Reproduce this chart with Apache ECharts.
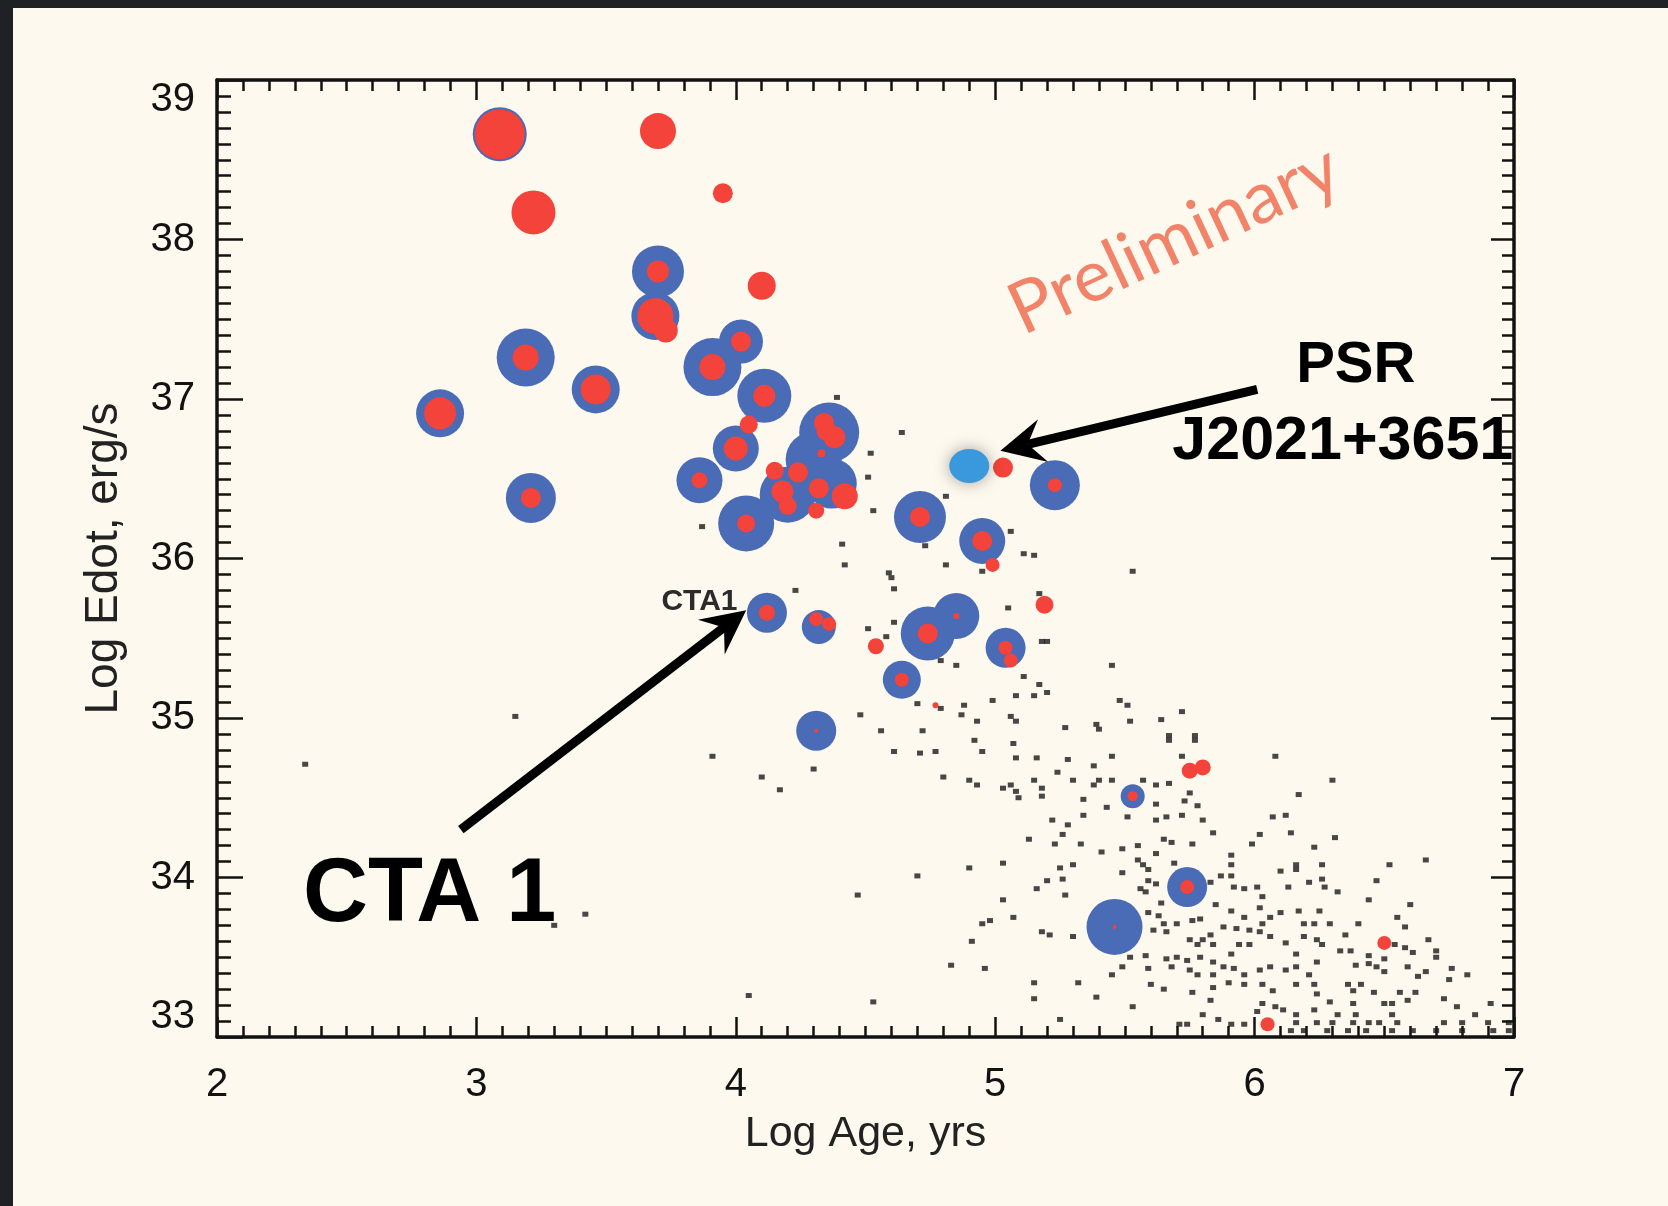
<!DOCTYPE html>
<html><head><meta charset="utf-8">
<script src="https://cdn.jsdelivr.net/npm/echarts@6/dist/echarts.min.js"></script>
<style>html,body{margin:0;padding:0;background:#FDF9EF;} #c{width:1668px;height:1206px;}</style>
</head><body><div id="c"></div>
<script>
// ---- axis ranges / ticks ----
const xRange = [2, 7];
const yRange = [33, 39];
const tickStep = 1;

// ---- all radio pulsars (Log Age, Log Edot) ----
const allPulsars = [
[4.39,37.01],[4.64,36.79],[4.52,36.66],[4.51,36.51],[4.53,36.30],[4.81,36.39],[4.41,36.09],[4.42,35.96],[4.73,36.08],[4.81,35.96],
[4.59,35.91],[4.60,35.88],[4.61,35.81],[4.23,35.80],[5.06,36.17],[5.11,36.03],[4.95,35.92],[5.05,35.69],[4.61,35.60],[4.51,35.56],
[4.58,35.51],[4.79,35.36],[4.85,35.33],[5.11,35.26],[4.99,35.11],[5.08,35.14],[4.70,35.09],[4.79,35.06],[4.88,35.08],[4.87,35.02],
[4.93,34.98],[4.48,35.02],[5.06,35.01],[5.08,34.98],[4.56,34.92],[4.72,34.92],[3.87,36.20],[5.15,36.02],[5.17,35.21],[5.20,35.16],
[5.15,35.14],[5.27,34.94],[5.39,34.96],
[5.53,35.92],[5.17,35.78],[5.18,35.48],[5.20,35.48],[5.45,35.33],[5.48,35.11],[5.51,35.08],[5.52,34.98],[5.64,34.99],[5.72,35.04],
[5.40,34.93],[5.67,34.89],[5.77,34.89],
[4.61,34.79],[4.71,34.78],[4.77,34.79],[4.92,34.86],[4.95,34.79],[5.07,34.84],[5.08,34.75],[4.30,34.68],[4.17,34.55],[4.80,34.63],
[4.90,34.61],[4.93,34.58],[5.03,34.56],[5.06,34.58],[5.08,34.54],[5.09,34.50],[5.13,34.24],[4.70,34.01],[4.47,33.89],[4.90,34.06],
[5.03,34.09],[5.03,33.86],[4.95,33.71],[4.98,33.73],[5.07,33.75],[4.91,33.60],[4.83,33.45],[4.96,33.43],[4.53,33.22],
[5.67,34.86],[5.77,34.86],[5.16,34.75],[5.28,34.74],[5.45,34.76],[5.38,34.70],[5.72,34.76],[5.24,34.66],[5.30,34.61],[5.15,34.61],
[5.18,34.56],[5.18,34.51],[5.40,34.61],[5.45,34.61],[5.38,34.58],[5.57,34.61],[5.62,34.58],[5.67,34.59],[5.75,34.53],[5.73,34.48],
[5.78,34.45],[5.34,34.49],[5.43,34.44],[5.34,34.39],[5.62,34.46],[5.22,34.36],[5.28,34.33],[5.26,34.27],[5.23,34.21],[5.33,34.21],
[5.51,34.38],[5.62,34.36],[5.66,34.38],[5.72,34.39],[5.80,34.36],[5.84,34.28],[6.02,34.27],[6.07,34.38],[5.99,34.21],[5.65,34.24],
[5.68,34.22],[5.76,34.21],[5.41,34.16],[5.49,34.18],[5.55,34.20],[5.62,34.15],[5.69,34.09],[5.55,34.11],[5.57,34.08],[5.59,34.05],
[5.25,34.06],[5.30,34.08],[5.91,34.14],[5.91,34.08],[5.87,34.01],[5.91,34.01],[5.49,34.03],[5.20,33.98],[5.26,33.99],[5.16,33.93],
[5.27,33.89],[5.56,33.93],[5.58,33.91],[5.59,33.98],[5.62,33.96],[5.83,33.97],[5.92,33.94],[5.96,33.93],[6.01,33.94],[6.03,33.88],
[5.85,33.83],[5.91,33.79],[5.96,33.75],[6.02,33.81],[6.06,33.75],[5.64,33.84],[5.63,33.76],[5.59,33.78],[5.18,33.66],[5.21,33.64],
[5.30,33.63],[5.65,33.71],[5.70,33.71],[5.66,33.66],[5.76,33.73],[5.79,33.74],[5.61,33.67],[5.75,33.61],[5.80,33.61],[5.83,33.64],
[5.84,33.58],[5.78,33.58],[5.88,33.69],[5.93,33.68],[5.98,33.67],[6.03,33.71],[6.02,33.66],[6.06,33.63],[5.94,33.58],[5.98,33.58],
[5.91,33.52],[5.58,33.51],[5.52,33.50],[5.49,33.44],[5.45,33.39],[5.59,33.43],[5.66,33.49],[5.70,33.50],[5.74,33.48],[5.79,33.50],
[5.84,33.47],[5.68,33.44],[5.75,33.42],[5.78,33.39],[5.84,33.39],[5.88,33.44],[5.92,33.43],[5.96,33.39],[6.02,33.42],[6.06,33.44],
[5.60,33.33],[5.65,33.30],[5.76,33.28],[5.84,33.31],[5.90,33.34],[5.96,33.33],[6.03,33.33],[6.07,33.29],[5.15,33.34],[5.32,33.34],
[5.15,33.24],[5.39,33.25],[5.53,33.19],[5.83,33.23],[5.25,33.11],[5.80,33.14],[5.86,33.11],[5.91,33.08],[5.96,33.08],[6.01,33.16],
[6.03,33.21],[6.08,33.19],[5.71,33.08],[5.74,33.08],
[6.30,34.61],[6.17,34.52],[6.12,34.39],[6.14,34.28],[6.31,34.25],[6.23,34.19],[6.10,34.04],[6.16,34.08],[6.16,34.05],[6.26,34.08],
[6.26,33.99],[6.27,33.94],[6.21,33.97],[6.13,33.94],[6.32,33.91],[6.52,34.08],[6.66,34.11],[6.47,33.98],[6.44,33.86],[6.60,33.83],
[6.55,33.75],[6.58,33.69],[6.17,33.79],[6.25,33.79],[6.10,33.78],[6.54,33.58],[6.58,33.56],[6.61,33.53],[6.67,33.61],[6.70,33.54],
[6.70,33.50],[6.19,33.71],[6.23,33.71],[6.29,33.71],[6.40,33.71],[6.35,33.64],[6.19,33.63],[6.24,33.61],[6.26,33.58],[6.12,33.59],
[6.33,33.54],[6.37,33.54],[6.44,33.51],[6.50,33.49],[6.44,33.46],[6.47,33.44],[6.50,33.41],[6.16,33.52],[6.16,33.44],[6.24,33.47],
[6.12,33.42],[6.21,33.39],[6.39,33.45],[6.59,33.44],[6.63,33.38],[6.66,33.41],[6.76,33.43],[6.82,33.39],[6.75,33.36],[6.16,33.33],
[6.23,33.33],[6.24,33.27],[6.36,33.33],[6.41,33.33],[6.38,33.29],[6.46,33.28],[6.56,33.28],[6.62,33.28],[6.29,33.22],[6.38,33.21],
[6.50,33.21],[6.53,33.21],[6.59,33.23],[6.73,33.24],[6.78,33.19],[6.85,33.14],[6.91,33.21],[6.11,33.17],[6.16,33.14],[6.23,33.17],
[6.32,33.14],[6.39,33.14],[6.53,33.14],
[6.16,33.09],[6.24,33.09],[6.30,33.09],[6.38,33.09],[6.44,33.09],[6.48,33.09],[6.55,33.09],[6.73,33.09],[6.80,33.09],[6.90,33.09],[6.98,33.09],
[6.14,33.04],[6.19,33.04],[6.28,33.04],[6.36,33.04],[6.43,33.04],[6.53,33.04],[6.61,33.04],[6.70,33.04],[6.80,33.04],[6.92,33.04],[6.98,33.04],
[2.34,34.71],[3.15,35.01],[3.91,34.76],[4.10,34.63],[3.42,33.77],[3.30,33.70],[4.05,33.26],[6.08,34.76]
];

// ---- gamma-ray detected pulsars (blue discs): [LogAge, LogEdot, relative size] ----
const gammaPulsars = [
[3.09,38.66,27],[3.70,37.80,26],[3.69,37.52,24],[3.19,37.26,29],[4.02,37.36,22],[3.91,37.20,29],[3.46,37.06,24],
[4.11,37.02,27],[2.86,36.91,24],[4.00,36.69,23],[3.86,36.49,23],[3.21,36.38,25],[4.04,36.22,28],
[4.36,36.79,30],[4.30,36.62,28],[4.20,36.40,28],[4.37,36.47,25],
[4.71,36.26,26],[4.95,36.11,23],[5.23,36.46,25],[4.12,35.66,20],[4.32,35.57,17],[4.74,35.53,27],[4.85,35.64,23],
[5.04,35.44,20],[4.64,35.24,19],[4.31,34.92,20],[5.53,34.51,12],[5.74,33.94,20],[5.46,33.69,28]
];

// ---- red points: [LogAge, LogEdot, relative size] ----
const redPoints = [
[3.09,38.66,25],[3.70,37.80,11],[3.69,37.52,18],[3.73,37.43,12],[3.19,37.26,13],[4.02,37.36,10],[3.91,37.20,13],
[3.46,37.06,15],[4.11,37.02,11],[2.86,36.91,16],[4.00,36.69,12],[3.86,36.49,8],[3.21,36.38,10],[4.04,36.22,9],
[4.34,36.85,10],[4.38,36.76,11],[4.35,36.80,10],[4.33,36.66,4],
[4.71,36.26,10],[4.95,36.11,10],[5.23,36.46,7],[4.12,35.66,8],[4.31,35.62,7],[4.36,35.59,7],[4.74,35.53,10],
[4.85,35.64,3],[5.04,35.44,7],[5.06,35.36,7],[4.64,35.24,7],[4.31,34.92,2],[5.53,34.51,5],[5.74,33.94,7],[5.46,33.69,2],
[3.70,38.68,18],[3.95,38.29,10],[3.22,38.17,22],[4.10,37.71,14],[4.05,36.84,9],[4.15,36.55,9],[4.24,36.54,10],
[4.18,36.42,11],[4.20,36.33,9],[4.32,36.44,10],[4.42,36.39,13],[4.31,36.30,8],[4.99,35.96,7],[5.03,36.57,10],
[4.54,35.45,8],[5.19,35.71,9],[4.77,35.08,3],[5.75,34.67,8],[5.80,34.69,8],[6.05,33.08,7],[6.50,33.59,7]
];

// ---- highlighted pulsar ----
const psrJ2021 = [[4.90, 36.58]];

// ---- annotation anchors (data coordinates) ----
const notes = {
  cta1Big:   {text: 'CTA 1', at: [2.82, 33.88]},
  cta1Small: {text: 'CTA1', at: [3.86, 35.73]},
  psr1:      {text: 'PSR', at: [6.39, 37.21]},
  psr2:      {text: 'J2021+3651', at: [6.34, 36.73]},
  prelim:    {text: 'Preliminary', at: [5.69, 38.0]},
  arrowCTA:  {from: [2.94, 34.30], to: [4.04, 35.675]},
  arrowPSR:  {from: [6.01, 37.06], to: [5.02, 36.675]}
};

const chart = echarts.init(document.getElementById('c'), null, {renderer: 'canvas'});
const AX = '#121212';
const FONT = 'Liberation Sans';

function xAxisCfg(pos, showLabel) {
  return {
    type: 'value', min: xRange[0], max: xRange[1], interval: tickStep, position: pos,
    axisLine: {onZero: false, lineStyle: {color: AX, width: 3.5}},
    axisTick: {inside: true, length: 20, lineStyle: {color: AX, width: 2.5}},
    minorTick: {show: true, splitNumber: 10, length: 11, lineStyle: {color: AX, width: 2.5}},
    splitLine: {show: false},
    axisLabel: {show: showLabel, fontSize: 40, color: AX, fontFamily: FONT, margin: 28},
    name: showLabel ? 'Log Age, yrs' : '', nameLocation: 'middle', nameGap: 76,
    nameTextStyle: {fontSize: 43, color: '#222', fontFamily: FONT}
  };
}
function yAxisCfg(pos, showLabel) {
  return {
    type: 'value', min: yRange[0], max: yRange[1], interval: tickStep, position: pos,
    axisLine: {onZero: false, lineStyle: {color: AX, width: 3.5}},
    axisTick: {inside: true, length: pos === 'left' ? 26 : 23, lineStyle: {color: AX, width: 2.5}},
    minorTick: {show: true, splitNumber: 10, length: pos === 'left' ? 14 : 12, lineStyle: {color: AX, width: 2.5}},
    splitLine: {show: false},
    axisLabel: {show: showLabel, fontSize: 40, color: AX, fontFamily: FONT, margin: 22,
      verticalAlignMinLabel: 'bottom', verticalAlignMaxLabel: 'top'},
    name: showLabel ? 'Log Edot, erg/s' : '', nameLocation: 'middle', nameGap: 90,
    nameTextStyle: {fontSize: 46, color: '#222', fontFamily: FONT}
  };
}

chart.setOption({
  animation: false,
  backgroundColor: '#FDF9EF',
  grid: {left: 217, right: 154, top: 80, bottom: 169, containLabel: false},
  xAxis: [xAxisCfg('bottom', true), xAxisCfg('top', false)],
  yAxis: [yAxisCfg('left', true), yAxisCfg('right', false)],
  series: [
    {type: 'scatter', data: allPulsars, symbol: 'rect', symbolSize: [6, 5], z: 1, silent: true,
     itemStyle: {color: '#1a1a1a', opacity: 0.8}},
    {type: 'scatter', data: gammaPulsars, symbol: 'circle', symbolSize: d => d[2] * 2, z: 2, silent: true,
     itemStyle: {color: '#4A6BB5', opacity: 1}},
    {type: 'scatter', data: redPoints, symbol: 'circle', symbolSize: d => d[2] * 2, z: 3, silent: true,
     itemStyle: {color: '#F4433A', opacity: 1}},
    {type: 'scatter', data: psrJ2021, symbol: 'circle', symbolSize: [40, 34], z: 4, silent: true,
     itemStyle: {color: '#3A98DC', opacity: 1, shadowBlur: 16, shadowColor: 'rgba(0,0,0,0.35)'}}
  ]
});

const P = (pt) => chart.convertToPixel({xAxisIndex: 0, yAxisIndex: 0}, pt);

function arrow(fromD, toD) {
  const a = P(fromD), t = P(toD);
  const dx = t[0] - a[0], dy = t[1] - a[1], len = Math.hypot(dx, dy);
  const ux = dx / len, uy = dy / len, nx = -uy, ny = ux;
  const L = 44, W = 22, N = 28;
  const base = [t[0] - L * ux, t[1] - L * uy];
  const notch = [t[0] - N * ux, t[1] - N * uy];
  return [
    {type: 'polyline', shape: {points: [a, notch]}, z: 100,
     style: {stroke: '#000', lineWidth: 9, fill: null}},
    {type: 'polygon', z: 100, shape: {points: [t, [base[0] + W * nx, base[1] + W * ny], notch, [base[0] - W * nx, base[1] - W * ny]]},
     style: {fill: '#000'}}
  ];
}

function label(n, opts) {
  const p = P(n.at);
  return {type: 'text', x: p[0], y: p[1], z: 100, rotation: opts.rotation || 0,
    style: Object.assign({text: n.text, align: 'center', verticalAlign: 'middle',
      textAlign: 'center', textVerticalAlign: 'middle', fontFamily: FONT}, opts.style)};
}

const bigShadow = {shadowBlur: 8, shadowColor: 'rgba(0,0,0,0.5)', shadowOffsetX: 4, shadowOffsetY: 6};

chart.setOption({
  graphic: [
    {type: 'rect', shape: {x: 0, y: 0, width: 13, height: 1206}, style: {fill: '#1f2124'}, z: 200},
    {type: 'rect', shape: {x: 0, y: 0, width: 1668, height: 8}, style: {fill: '#1f2124'}, z: 200},
    ...arrow(notes.arrowCTA.from, notes.arrowCTA.to),
    ...arrow(notes.arrowPSR.from, notes.arrowPSR.to),
    label(notes.cta1Big, {style: Object.assign({fontSize: 90, fontWeight: 'bold', fill: '#000'}, bigShadow)}),
    label(notes.psr1, {style: Object.assign({fontSize: 58, fontWeight: 'bold', fill: '#000'}, bigShadow)}),
    label(notes.psr2, {style: Object.assign({fontSize: 61, fontWeight: 'bold', fill: '#000'}, bigShadow)}),
    label(notes.cta1Small, {style: {fontSize: 30, fontWeight: 'bold', fill: '#2b2b2b'}}),
    label(notes.prelim, {rotation: 25 * Math.PI / 180, style: {fontSize: 72, fontFamily: 'Lato', fill: '#F27559', opacity: 0.9}})
  ]
});
</script></body></html>
